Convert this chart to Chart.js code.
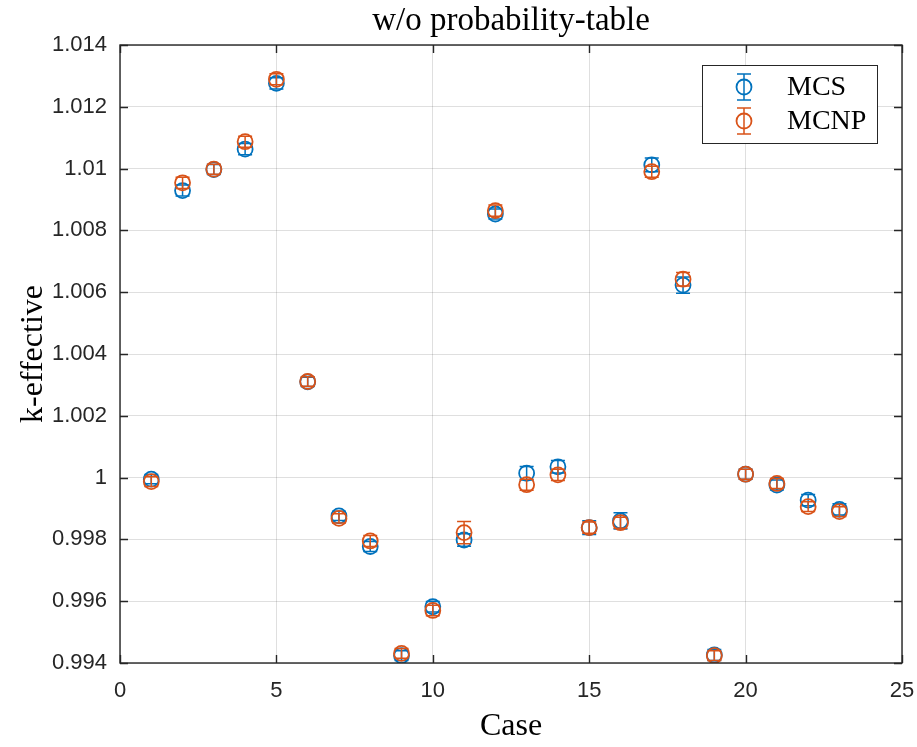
<!DOCTYPE html>
<html>
<head>
<meta charset="utf-8">
<script src="https://cdn.jsdelivr.net/npm/chart.js@4.4.1/dist/chart.umd.min.js"></script>
<style>
  html,body{margin:0;padding:0;background:#fff;}
  canvas{display:block;}
</style>
</head>
<body>
<canvas id="keff" width="917" height="747"></canvas>
<script>
'use strict';
// k-effective per case, MCS vs MCNP (no probability table)
var cases=[1,2,3,4,5,6,7,8,9,10,11,12,13,14,15,16,17,18,19,20,21,22,23];
var mcsK=[0.99995,1.00929,1.00997,1.01063,1.01276,1.00310,0.99876,0.99777,0.99424,0.99582,0.99798,1.00853,
          1.00014,1.00035,0.99838,0.99860,1.01012,1.00623,0.99426,1.00011,0.99976,0.99927,0.99897];
var mcsErr=[0.00015,0.00018,0.00016,0.00018,0.00018,0.00015,0.00015,0.00016,0.00016,0.00017,0.0002,0.00016,
            0.00022,0.0002,0.00022,0.00026,0.00022,0.00026,0.00018,0.00016,0.00016,0.00018,0.00018];
var mcnpK=[0.99987,1.00954,1.00998,1.01087,1.01289,1.00311,0.99868,0.99795,0.99431,0.99570,0.99822,1.00864,
           0.99977,1.00009,0.99838,0.99854,1.00990,1.00642,0.99424,1.00011,0.99981,0.99906,0.99890];
var mcnpErr=[0.00016,0.00018,0.00016,0.00018,0.00018,0.00015,0.00015,0.00018,0.00016,0.00017,0.00036,0.00018,
             0.00018,0.00018,0.00018,0.00018,0.00018,0.00022,0.00016,0.00016,0.00016,0.00016,0.00016];
var xTicks=[0,5,10,15,20,25];
var yTicks=[0.994,0.996,0.998,1,1.002,1.004,1.006,1.008,1.01,1.012,1.014];

var AXIS='#262626';
var SERIF="'Liberation Serif','Times New Roman',serif";
var SANS="'Liberation Sans',Arial,sans-serif";

function pts(ys){
  return cases.map(function(c,i){return {x:c,y:ys[i]};});
}

// vertical error bars with caps, drawn right before each dataset's markers
var errorBars={
  id:'errorBars',
  beforeDatasetDraw:function(chart,args){
    var ds=chart.data.datasets[args.index];
    var xs=chart.scales.x,ys=chart.scales.y,ctx=chart.ctx;
    ctx.save();
    ctx.strokeStyle=ds.borderColor;ctx.lineWidth=1.5;
    ds.data.forEach(function(p,i){
      var e=ds.errors[i];
      var px=xs.getPixelForValue(p.x);
      var lo=ys.getPixelForValue(p.y-e),hi=ys.getPixelForValue(p.y+e);
      ctx.beginPath();
      ctx.moveTo(px,lo);ctx.lineTo(px,hi);
      ctx.moveTo(px-7,lo);ctx.lineTo(px+7,lo);
      ctx.moveTo(px-7,hi);ctx.lineTo(px+7,hi);
      ctx.stroke();
    });
    ctx.restore();
  }
};

// box around the axes, inward ticks on all four sides, and the legend
var axesBox={
  id:'axesBox',
  afterDraw:function(chart){
    var a=chart.chartArea,ctx=chart.ctx,xs=chart.scales.x,ys=chart.scales.y,tl=8;
    ctx.save();
    ctx.strokeStyle=AXIS;ctx.lineWidth=1.4;
    ctx.beginPath();
    xTicks.forEach(function(v){
      var px=Math.round(xs.getPixelForValue(v))+0.5;
      ctx.moveTo(px,a.bottom);ctx.lineTo(px,a.bottom-tl);
      ctx.moveTo(px,a.top);ctx.lineTo(px,a.top+tl);
    });
    yTicks.forEach(function(v){
      var py=Math.round(ys.getPixelForValue(v))+0.5;
      ctx.moveTo(a.left,py);ctx.lineTo(a.left+tl,py);
      ctx.moveTo(a.right,py);ctx.lineTo(a.right-tl,py);
    });
    ctx.stroke();
    ctx.strokeRect(a.left,a.top,a.right-a.left,a.bottom-a.top);

    // legend
    var w=175,h=78,lx=a.right-25-w,ly=a.top+20;
    ctx.fillStyle='#fff';
    ctx.fillRect(lx,ly,w,h);
    ctx.lineWidth=1;ctx.strokeStyle=AXIS;
    ctx.strokeRect(lx+0.5,ly+0.5,w,h);
    chart.data.datasets.forEach(function(ds,i){
      var cx=lx+42,cy=ly+22+i*34;
      ctx.strokeStyle=ds.borderColor;ctx.lineWidth=1.5;
      ctx.beginPath();
      ctx.moveTo(cx,cy-13);ctx.lineTo(cx,cy+13);
      ctx.moveTo(cx-7,cy-13);ctx.lineTo(cx+7,cy-13);
      ctx.moveTo(cx-7,cy+13);ctx.lineTo(cx+7,cy+13);
      ctx.stroke();
      ctx.lineWidth=1.8;
      ctx.beginPath();ctx.arc(cx,cy,7.5,0,Math.PI*2);ctx.stroke();
      ctx.fillStyle='#000';
      ctx.font='28px '+SERIF;
      ctx.textAlign='left';ctx.textBaseline='middle';
      ctx.fillText(ds.label,lx+85,cy+1);
    });
    ctx.restore();
  }
};

var ctx=document.getElementById('keff');
var chart=new Chart(ctx,{
  type:'scatter',
  data:{
    datasets:[
      {label:'MCS',data:pts(mcsK),errors:mcsErr,borderColor:'#0072BD',backgroundColor:'rgba(0,0,0,0)',
       pointRadius:7.5,pointBorderWidth:1.8,order:2},
      {label:'MCNP',data:pts(mcnpK),errors:mcnpErr,borderColor:'#D95319',backgroundColor:'rgba(0,0,0,0)',
       pointRadius:7.5,pointBorderWidth:1.8,order:1}
    ]
  },
  plugins:[errorBars,axesBox],
  options:{
    responsive:false,
    animation:false,
    events:[],
    layout:{padding:{left:0,right:15,top:0,bottom:0}},
    plugins:{
      legend:{display:false},
      tooltip:{enabled:false},
      title:{display:true,text:'w/o probability-table',fullSize:false,color:'#000',
        font:{family:SERIF,size:33,weight:'normal'},padding:{top:2,bottom:3.4}}
    },
    scales:{
      x:{
        type:'linear',min:0,max:25,
        afterBuildTicks:function(s){s.ticks=xTicks.map(function(v){return {value:v};});},
        afterFit:function(s){s.height=84;s.paddingLeft=0;s.paddingRight=0;},
        grid:{color:'rgba(38,38,38,0.15)',drawTicks:false},
        border:{display:false},
        ticks:{color:AXIS,font:{family:SANS,size:22},padding:15,maxRotation:0},
        title:{display:true,text:'Case',color:'#000',font:{family:SERIF,size:32},padding:{top:0,bottom:1}}
      },
      y:{
        type:'linear',min:0.994,max:1.014,
        afterBuildTicks:function(s){s.ticks=yTicks.map(function(v){return {value:v};});},
        afterFit:function(s){s.width=120;s.paddingTop=0;s.paddingBottom=0;},
        grid:{color:'rgba(38,38,38,0.15)',drawTicks:false},
        border:{display:false},
        ticks:{color:AXIS,font:{family:SANS,size:22},padding:13,
          callback:function(v){return String(parseFloat(v.toFixed(3)));}},
        title:{display:true,text:'k-effective',color:'#000',font:{family:SERIF,size:32},padding:{top:14,bottom:0}}
      }
    }
  }
});
</script>
</body>
</html>
